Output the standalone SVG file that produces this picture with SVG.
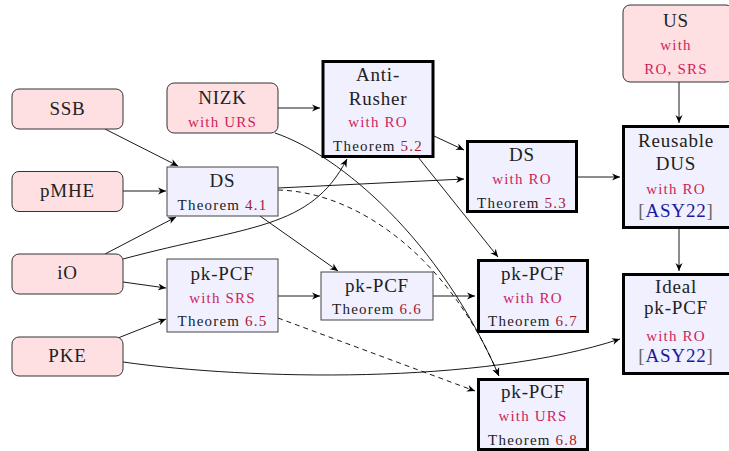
<svg xmlns="http://www.w3.org/2000/svg" width="729" height="451" viewBox="0 0 729 451">
<defs>
<marker id="ah" markerUnits="userSpaceOnUse" markerWidth="10" markerHeight="8" refX="8" refY="4" orient="auto">
<path d="M0,0.5 L8,4 L0,7.5 L2.5,4 Z" fill="#000"/>
</marker>
</defs>
<g id="connectors" fill="none" stroke="#000" stroke-width="0.9" marker-end="url(#ah)">
<path d="M105,129 L178,166"/>
<path d="M123,191 L166,191"/>
<path d="M105,254 L176,217"/>
<path d="M123,259 C250,225 310,230 347,159"/>
<path d="M123,282 L166,288"/>
<path d="M118,338 L166,319"/>
<path d="M123,362 C250,380 480,385 620,339"/>
<path d="M278,108 L320,108"/>
<path d="M275,133 C340,155 440,240 499,376"/>
<path d="M278,188 L464,179"/>
<path d="M278,190 C360,192 450,260 499,376" stroke-dasharray="5 4"/>
<path d="M260,216 L338,271"/>
<path d="M434,136 L464,150"/>
<path d="M418,157 L498,257"/>
<path d="M578,177 L620,177"/>
<path d="M679,82 L679,123"/>
<path d="M679,228 L679,271"/>
<path d="M278,296 L320,296"/>
<path d="M433,296 L475,296"/>
<path d="M278,318 L475,391" stroke-dasharray="5 4"/>
</g>
<g id="nodes" font-family="Liberation Serif" text-anchor="middle" fill="#222">
<g id="SSB"><rect fill="#FFE0E2" stroke="#333" x="12" y="89" width="111" height="40" rx="7"/><text font-family="Liberation Serif" font-size="19" letter-spacing="0.8" x="67.5" y="115">SSB</text></g>
<g id="pMHE"><rect fill="#FFE0E2" stroke="#333" x="12" y="171.5" width="111" height="40" rx="7"/><text font-size="19" letter-spacing="0.8" x="67.5" y="197">pMHE</text></g>
<g id="iO"><rect fill="#FFE0E2" stroke="#333" x="12" y="254" width="111" height="40" rx="7"/><text font-size="19" letter-spacing="0.8" x="67.5" y="279">iO</text></g>
<g id="PKE"><rect fill="#FFE0E2" stroke="#333" x="12" y="337" width="111" height="39" rx="7"/><text font-size="19" letter-spacing="0.8" x="67.5" y="362">PKE</text></g>
<g id="NIZK"><rect fill="#FFE0E2" stroke="#333" x="167" y="83" width="111" height="50" rx="7"/><text font-size="19" letter-spacing="0.8" x="222.5" y="104">NIZK</text><text font-size="15" letter-spacing="1.2" fill="#CC1F5C" x="222.5" y="127">with URS</text></g>
<g id="DS41"><rect fill="#F0F0FF" stroke="#444" x="167" y="167" width="111" height="49"/><text font-size="19" letter-spacing="0.8" x="222.5" y="187">DS</text><text font-size="15" letter-spacing="1.2" x="222.5" y="210">Theorem <tspan fill="#A31A33">4.1</tspan></text></g>
<g id="AntiRusher"><rect fill="#F0F0FF" stroke="#000" stroke-width="3" x="323" y="61.5" width="110" height="95"/><text font-size="19" letter-spacing="0.8" x="378" y="81">Anti-</text><text font-size="19" letter-spacing="0.8" x="378" y="105">Rusher</text><text font-size="15" letter-spacing="1.2" fill="#CC1F5C" x="378" y="127">with RO</text><text font-size="15" letter-spacing="1.2" x="378" y="151">Theorem <tspan fill="#A31A33">5.2</tspan></text></g>
<g id="DS53"><rect fill="#F0F0FF" stroke="#000" stroke-width="3" x="467.5" y="141.5" width="109" height="70"/><text font-size="19" letter-spacing="0.8" x="522" y="161">DS</text><text font-size="15" letter-spacing="1.2" fill="#CC1F5C" x="522" y="184">with RO</text><text font-size="15" letter-spacing="1.2" x="522" y="208">Theorem <tspan fill="#A31A33">5.3</tspan></text></g>
<g id="US"><rect fill="#FFE0E2" stroke="#333" x="623" y="5" width="110" height="77" rx="7"/><text font-size="19" letter-spacing="0.8" x="676" y="27">US</text><text font-size="15" letter-spacing="1.2" fill="#CC1F5C" x="676" y="50">with</text><text font-size="15" letter-spacing="1.2" fill="#CC1F5C" x="676" y="74">RO, SRS</text></g>
<g id="ReusableDUS"><rect fill="#F0F0FF" stroke="#000" stroke-width="3" x="623.5" y="126.5" width="108" height="101"/><text font-size="19" letter-spacing="0.8" x="676" y="147">Reusable</text><text font-size="19" letter-spacing="0.8" x="676" y="170">DUS</text><text font-size="15" letter-spacing="1.2" fill="#CC1F5C" x="676" y="194">with RO</text><text font-size="19" letter-spacing="0.8" x="676" y="217"><tspan fill="#666">[</tspan><tspan fill="#1A1A9E">ASY22</tspan><tspan fill="#666">]</tspan></text></g>
<g id="IdealPKPCF"><rect fill="#F0F0FF" stroke="#000" stroke-width="3" x="623.5" y="274.5" width="108" height="99"/><text font-size="19" letter-spacing="0.8" x="676" y="293">Ideal</text><text font-size="19" letter-spacing="0.8" x="676" y="314">pk-PCF</text><text font-size="15" letter-spacing="1.2" fill="#CC1F5C" x="676" y="341">with RO</text><text font-size="19" letter-spacing="0.8" x="676" y="362"><tspan fill="#666">[</tspan><tspan fill="#1A1A9E">ASY22</tspan><tspan fill="#666">]</tspan></text></g>
<g id="PKPCF65"><rect fill="#F0F0FF" stroke="#444" x="167" y="259" width="111" height="73"/><text font-size="19" letter-spacing="0.8" x="222.5" y="280">pk-PCF</text><text font-size="15" letter-spacing="1.2" fill="#CC1F5C" x="222.5" y="303">with SRS</text><text font-size="15" letter-spacing="1.2" x="222.5" y="326">Theorem <tspan fill="#A31A33">6.5</tspan></text></g>
<g id="PKPCF66"><rect fill="#F0F0FF" stroke="#444" x="321" y="272" width="112" height="48"/><text font-size="19" letter-spacing="0.8" x="377" y="292">pk-PCF</text><text font-size="15" letter-spacing="1.2" x="377" y="314">Theorem <tspan fill="#A31A33">6.6</tspan></text></g>
<g id="PKPCF67"><rect fill="#F0F0FF" stroke="#000" stroke-width="3" x="478.5" y="260.5" width="109" height="71"/><text font-size="19" letter-spacing="0.8" x="533" y="280">pk-PCF</text><text font-size="15" letter-spacing="1.2" fill="#CC1F5C" x="533" y="303">with RO</text><text font-size="15" letter-spacing="1.2" x="533" y="326">Theorem <tspan fill="#A31A33">6.7</tspan></text></g>
<g id="PKPCF68"><rect fill="#F0F0FF" stroke="#000" stroke-width="3" x="478.5" y="379.5" width="109" height="70"/><text font-size="19" letter-spacing="0.8" x="533" y="398">pk-PCF</text><text font-size="15" letter-spacing="1.2" fill="#CC1F5C" x="533" y="421">with URS</text><text font-size="15" letter-spacing="1.2" x="533" y="445">Theorem <tspan fill="#A31A33">6.8</tspan></text></g>
</g>
</svg>
